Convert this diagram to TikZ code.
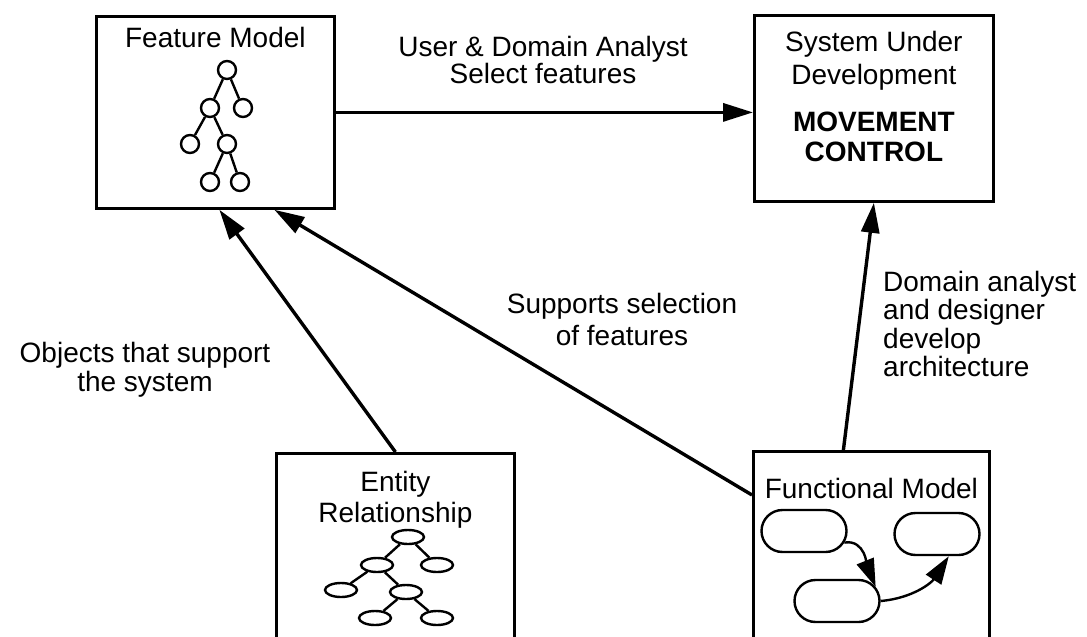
\documentclass[tikz,border=0pt]{standalone}
\usepackage{fontspec}
\setmainfont{Liberation Sans}
\usetikzlibrary{arrows.meta, positioning, shapes.geometric, shapes.misc}

\begin{document}
\begin{tikzpicture}[
    x=1pt, y=-1pt,
    box/.style={draw, rectangle, line width=2.8pt, anchor=north west, inner sep=0pt},
    heading/.style={font=\fontsize{28}{31}\selectfont, align=center, inner sep=0pt},
    note/.style={font=\fontsize{28}{29}\selectfont, align=center, inner sep=0pt},
    fnode/.style={draw, circle, line width=2.4pt, fill=white, minimum size=18pt, inner sep=0pt},
    enode/.style={draw, ellipse, line width=2.4pt, fill=white, minimum width=32pt, minimum height=14pt, inner sep=0pt},
    proc/.style={draw, rounded rectangle, line width=2.4pt, minimum width=85pt, minimum height=42pt, inner sep=0pt},
    treeline/.style={line width=2.4pt},
    arrow/.style={-{Triangle[length=30pt, width=18pt]}, line width=3.4pt},
    smallarrow/.style={-{Triangle[length=28pt, width=18pt]}, line width=2.4pt}
]
\useasboundingbox (0,0) rectangle (1087,637);
\clip (0,0) rectangle (1087,637);

% === Boxes ===
\node[box, minimum width=238pt, minimum height=192pt] (feat) at (95,15) {};
\node[box, minimum width=239pt, minimum height=186pt] (sud) at (753,14) {};
\node[box, minimum width=238pt, minimum height=200pt] (er) at (275,452) {};
\node[box, minimum width=236pt, minimum height=200pt] (func) at (752,450) {};

% === Box titles ===
\node[heading, below=12pt of feat.north] (feattitle) {Feature Model};
\node[heading, font=\fontsize{28}{33}\selectfont, below=17pt of sud.north] (sudtitle) {System Under\\Development};
\node[heading, font=\fontsize{28}{30}\selectfont\bfseries, below=21pt of sudtitle] (sudname) {MOVEMENT\\CONTROL};
\node[heading, below=19pt of er.north] (ertitle) {Entity\\Relationship};
\node[heading, below=28pt of func.north] (functitle) {Functional Model};

% === Feature tree ===
\node[fnode] (f1) at (227,70) {};
\node[fnode] (f2) at (210,108) {};
\node[fnode] (f3) at (243,108) {};
\node[fnode] (f4) at (190,144) {};
\node[fnode] (f5) at (227,144) {};
\node[fnode] (f6) at (210,182) {};
\node[fnode] (f7) at (240,182) {};
\foreach \a/\b in {f1/f2, f1/f3, f2/f4, f2/f5, f5/f6, f5/f7}
    \draw[treeline] (\a) -- (\b);

% === Entity tree ===
\node[enode] (e1) at (408,537) {};
\node[enode] (e2) at (377,565) {};
\node[enode] (e3) at (437,565) {};
\node[enode] (e4) at (341,590) {};
\node[enode] (e5) at (406,592) {};
\node[enode] (e6) at (375,618) {};
\node[enode] (e7) at (437,618) {};
\foreach \a/\b in {e1/e2, e1/e3, e2/e4, e2/e5, e5/e6, e5/e7}
    \draw[treeline] (\a) -- (\b);

% === Functional model ===
\node[proc] (pa) at (804,531) {};
\node[proc] (pb) at (937,534) {};
\node[proc] (pc) at (837,601) {};
\draw[smallarrow] (pa.-16) to[out=10, in=112] (pc.20);
\draw[smallarrow] (pc.east) to[out=5, in=-123] (pb.-62);

% ============ ARROWS ============
\draw[arrow] (feat.east) -- (feat.east -| sud.west);
\draw[arrow] ([xshift=-28pt]func.north) -- (sud.south);
\draw[arrow] ([yshift=-45pt]func.north west) -- ([xshift=59pt]feat.south);
\draw[arrow] (er.north) -- ([xshift=4pt]feat.south);

% Labels for the arrows
\node[note, font=\fontsize{28}{26}\selectfont] (sellabel) at (543,60) {User \& Domain Analyst\\Select features};
\node[note] (objlabel) at (145,370) {Objects that support\\the system};
\node[note, font=\fontsize{28}{32}\selectfont] (suplabel) at (622,319) {Supports selection\\of features};
\node[note, font=\fontsize{28}{28.3}\selectfont, align=left, anchor=west] (devlabel) at (883,324) {Domain analyst\\and designer\\develop\\architecture};

\end{tikzpicture}
\end{document}
